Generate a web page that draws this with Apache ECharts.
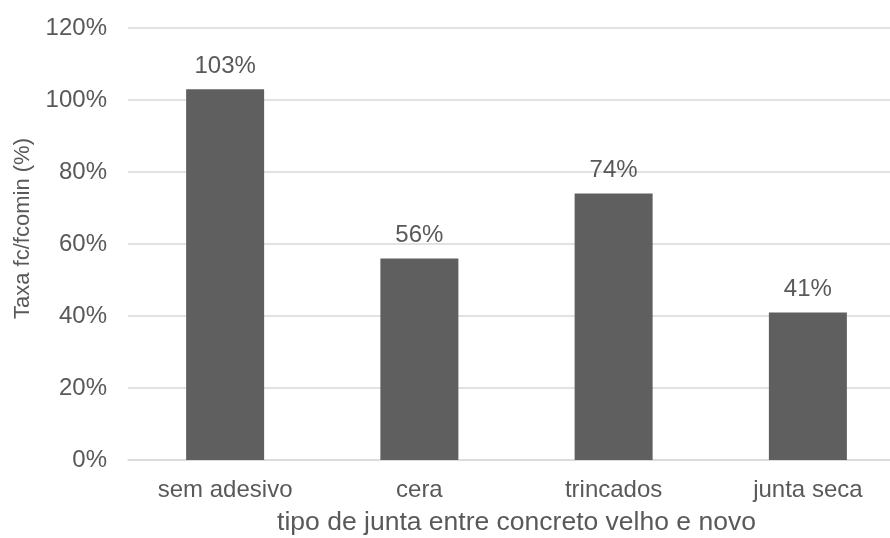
<!DOCTYPE html>
<html>
<head>
<meta charset="utf-8">
<script src="https://cdn.jsdelivr.net/npm/echarts@6/dist/echarts.min.js"></script>
<style>
html,body{margin:0;padding:0;background:#fff;}
#chart{width:890px;height:538px;}
</style>
</head>
<body>
<div id="chart"></div>
<script>
const categories = ["sem adesivo", "cera", "trincados", "junta seca"];
const values = [103, 56, 74, 41];
const yTicks = [0, 20, 40, 60, 80, 100, 120];
const xTitle = "tipo de junta entre concreto velho e novo";
const yTitle = "Taxa fc/fcomin (%)";

const chart = echarts.init(document.getElementById('chart'), null, {renderer: 'canvas'});
const font = '"Liberation Sans", Arial, sans-serif';
const txt = '#595959';
chart.setOption({
  animation: false,
  backgroundColor: '#ffffff',
  grid: {left: 128, top: 28, width: 777, height: 432, containLabel: false, outerBoundsMode: 'none'},
  xAxis: {
    type: 'category',
    data: categories,
    name: xTitle,
    nameLocation: 'middle',
    nameGap: 63,
    nameTextStyle: {color: txt, fontSize: 26.5, fontFamily: font, verticalAlign: 'middle'},
    axisLine: {lineStyle: {color: '#d9d9d9', width: 1.5}},
    axisTick: {show: false},
    axisLabel: {color: txt, fontSize: 24, fontFamily: font, margin: 18}
  },
  yAxis: {
    type: 'value',
    min: yTicks[0],
    max: yTicks[yTicks.length - 1],
    interval: 20,
    name: yTitle,
    nameLocation: 'middle',
    nameGap: 105,
    nameTextStyle: {color: txt, fontSize: 22, fontFamily: font, verticalAlign: 'middle', padding: [0, 0, 0, 31]},
    axisLine: {show: false},
    axisTick: {show: false},
    splitLine: {lineStyle: {color: '#d9d9d9', width: 1.5}},
    axisLabel: {color: txt, fontSize: 24, fontFamily: font, margin: 21, formatter: v => v + '%'}
  },
  series: [{
    type: 'bar',
    data: values,
    barWidth: 78,
    itemStyle: {color: '#5f5f5f'},
    label: {
      show: true,
      position: 'top',
      distance: 11,
      color: txt,
      fontSize: 24,
      fontFamily: font,
      formatter: p => p.value + '%'
    }
  }]
});
</script>
</body>
</html>
